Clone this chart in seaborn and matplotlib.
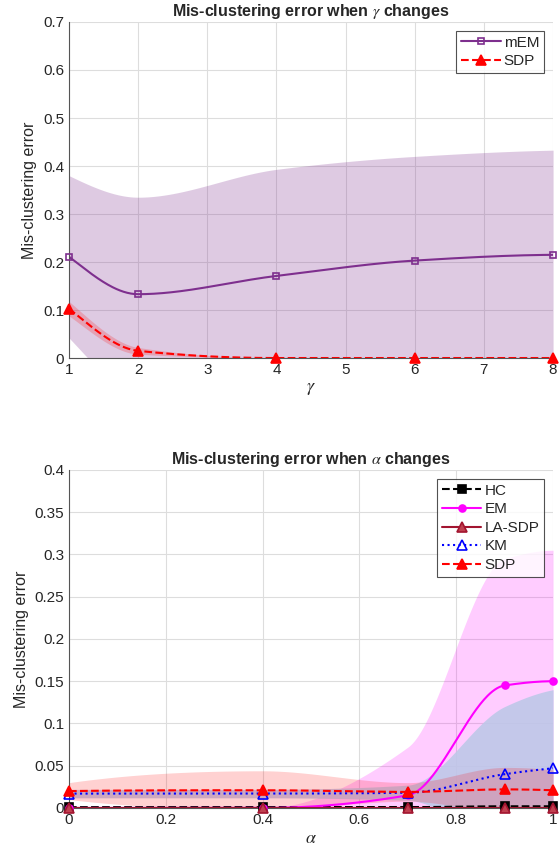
import numpy as np
import matplotlib
matplotlib.use('Agg')
import matplotlib.pyplot as plt
import seaborn as sns
from matplotlib.lines import Line2D

# dados - gamma
gamma = [1, 2, 4, 6, 8]
mem_mean = [0.211, 0.133, 0.171, 0.203, 0.215]
mem_std = [0.169, 0.202, 0.222, 0.217, 0.218]
sdp_g_mean = [0.103, 0.015, 0.0, 0.0, 0.0]
sdp_g_std = [0.015, 0.007, 0.0, 0.0, 0.0]

# dados - alpha
alpha = [0, 0.4, 0.7, 0.9, 1.0]
hc_mean = [0.001, 0.001, 0.001, 0.002, 0.002]
hc_std = [0.001, 0.001, 0.001, 0.001, 0.001]
em_mean = [0.0, 0.0, 0.015, 0.145, 0.150]
em_std = [0.0, 0.0, 0.057, 0.150, 0.155]
lasdp_mean = [0.0005, 0.0005, 0.0005, 0.0005, 0.0005]
lasdp_std = [0.0, 0.0, 0.0, 0.0, 0.0]
km_mean = [0.017, 0.017, 0.018, 0.040, 0.047]
km_std = [0.005, 0.005, 0.009, 0.080, 0.093]
sdp_a_mean = [0.020, 0.021, 0.019, 0.022, 0.021]
sdp_a_std = [0.010, 0.023, 0.011, 0.026, 0.024]


def pchip(x, y, xs):
    # interpolacao cubica monotona (como no matlab)
    x = np.asarray(x, float); y = np.asarray(y, float)
    h = np.diff(x); de = np.diff(y) / h
    n = len(x); d = np.zeros(n)
    for k in range(1, n - 1):
        if de[k - 1] * de[k] > 0:
            w1 = 2 * h[k] + h[k - 1]; w2 = h[k] + 2 * h[k - 1]
            d[k] = (w1 + w2) / (w1 / de[k - 1] + w2 / de[k])
    def end(h0, h1, d0, d1):
        s = ((2 * h0 + h1) * d0 - h0 * d1) / (h0 + h1)
        if np.sign(s) != np.sign(d0):
            s = 0.0
        elif np.sign(d0) != np.sign(d1) and abs(s) > abs(3 * d0):
            s = 3 * d0
        return s
    d[0] = end(h[0], h[1], de[0], de[1])
    d[-1] = end(h[-1], h[-2], de[-1], de[-2])
    idx = np.clip(np.searchsorted(x, xs) - 1, 0, n - 2)
    t = (xs - x[idx]) / h[idx]
    h00 = 2 * t**3 - 3 * t**2 + 1; h10 = t**3 - 2 * t**2 + t
    h01 = -2 * t**3 + 3 * t**2; h11 = t**3 - t**2
    return h00 * y[idx] + h10 * h[idx] * d[idx] + h01 * y[idx + 1] + h11 * h[idx] * d[idx + 1]


def serie(ax, x, m, s, color, ls, marker, mfc, fill_color, fill_alpha, ms=6):
    xs = np.linspace(x[0], x[-1], 400)
    m = np.asarray(m); s = np.asarray(s)
    up = pchip(x, m + s, xs); lo = pchip(x, m - s, xs)
    ax.fill_between(xs, lo, up, color=fill_color, alpha=fill_alpha, linewidth=0)
    sns.lineplot(x=xs, y=pchip(x, m, xs), ax=ax, color=color, linestyle=ls, linewidth=1.5)
    ax.plot(x, m, linestyle='none', marker=marker, ms=ms, mfc=mfc, mec=color, mew=1.2,
            clip_on=False, zorder=5)
    return Line2D([], [], color=color, linestyle=ls, linewidth=1.5, marker=marker,
                  ms=ms, mfc=mfc, mec=color, mew=1.2)


def estilo(ax):
    ax.grid(True, color='#dddddd', linewidth=0.8)
    for lado in ['top', 'right']:
        ax.spines[lado].set_visible(False)
    for lado in ['left', 'bottom']:
        ax.spines[lado].set_color('#555555')
        ax.spines[lado].set_linewidth(0.8)
    ax.tick_params(direction='in', length=3, colors='#555555', labelcolor='#262626',
                   labelsize=11)
    ax.set_axisbelow(True)


sns.set_style('white')
plt.rcParams['font.family'] = ['Liberation Sans', 'DejaVu Sans']
plt.rcParams['mathtext.fontset'] = 'stix'

fig = plt.figure(figsize=(5.59, 8.59), dpi=100)
ax1 = fig.add_axes([0.1234, 0.5832, 0.866, 0.3912])
ax2 = fig.add_axes([0.1234, 0.0594, 0.866, 0.3935])

purple = '#7E2F8E'
h1 = serie(ax1, gamma, mem_mean, mem_std, purple, '-', 's', 'none', purple, 0.25, ms=5)
h2 = serie(ax1, gamma, sdp_g_mean, sdp_g_std, 'red', '--', '^', 'red', 'red', 0.2, ms=7)
ax1.set_xlim(1, 8); ax1.set_ylim(0, 0.7)
ax1.set_xticks(range(1, 9))
ax1.set_yticks(np.arange(0, 0.71, 0.1))
ax1.set_yticklabels(['0', '0.1', '0.2', '0.3', '0.4', '0.5', '0.6', '0.7'])
estilo(ax1)
ax1.set_title(r'Mis-clustering error when $\gamma$ changes', fontsize=11.5, fontweight='bold', pad=4)
ax1.set_xlabel(r'$\gamma$', fontsize=13, labelpad=2)
ax1.set_ylabel('Mis-clustering error', fontsize=11.5, color='#262626')
leg = ax1.legend([h1, h2], ['mEM', 'SDP'], loc='upper right', fontsize=11, fancybox=False,
                 edgecolor='#262626', handlelength=2.6, handletextpad=0.2,
                 borderpad=0.3, labelspacing=0.3, borderaxespad=0.6)
leg.get_frame().set_linewidth(0.8)

darkred = '#A2142F'
g1 = serie(ax2, alpha, hc_mean, hc_std, 'black', '--', 's', 'black', 'black', 0.15, ms=6)
g2 = serie(ax2, alpha, em_mean, em_std, 'magenta', '-', 'o', 'magenta', 'magenta', 0.2, ms=5)
g3 = serie(ax2, alpha, lasdp_mean, lasdp_std, darkred, '-', '^', '#c04050', darkred, 0.2, ms=7)
g4 = serie(ax2, alpha, km_mean, km_std, 'blue', ':', '^', 'none', '#BEC8E8', 0.9, ms=7)
g5 = serie(ax2, alpha, sdp_a_mean, sdp_a_std, 'red', '--', '^', 'red', 'red', 0.18, ms=7)
ax2.set_xlim(0, 1); ax2.set_ylim(0, 0.4)
ax2.set_xticks([0, 0.2, 0.4, 0.6, 0.8, 1])
ax2.set_xticklabels(['0', '0.2', '0.4', '0.6', '0.8', '1'])
ax2.set_yticks(np.arange(0, 0.401, 0.05))
ax2.set_yticklabels(['0', '0.05', '0.1', '0.15', '0.2', '0.25', '0.3', '0.35', '0.4'])
estilo(ax2)
ax2.set_title(r'Mis-clustering error when $\alpha$ changes', fontsize=11.5, fontweight='bold', pad=4)
ax2.set_xlabel(r'$\alpha$', fontsize=13, labelpad=2)
ax2.set_ylabel('Mis-clustering error', fontsize=11.5, color='#262626')
leg2 = ax2.legend([g1, g2, g3, g4, g5], ['HC', 'EM', 'LA-SDP', 'KM', 'SDP'], loc='upper right',
                  fontsize=11, fancybox=False, edgecolor='#262626', handlelength=2.6,
                  handletextpad=0.2, borderpad=0.3, labelspacing=0.3, borderaxespad=0.6)
leg2.get_frame().set_linewidth(0.8)

fig.savefig('out.png', dpi=100)
